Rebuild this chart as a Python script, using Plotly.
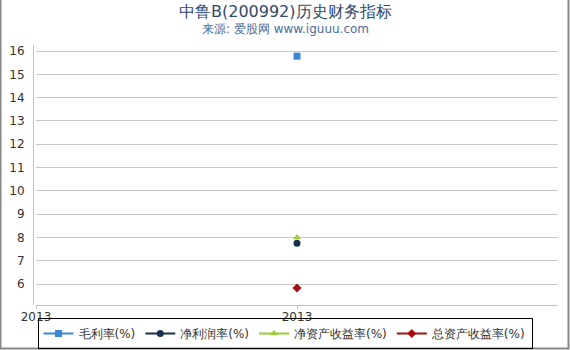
import plotly.graph_objects as go

years = [2013]
gross_margin = [15.78]
net_margin = [7.75]
roe = [8.0]
roa = [5.83]

series = [
    ("毛利率(%)", gross_margin, "#3a87d9", "square", 7),
    ("净利润率(%)", net_margin, "#17304f", "circle", 7),
    ("净资产收益率(%)", roe, "#9acd32", "triangle-up", 7),
    ("总资产收益率(%)", roa, "#a30f0f", "diamond", 7),
]

W, H = 570, 350
ml, mr, mt, mb = 33, 12, 45, 45
pw = W - ml - mr
ph = H - mt - mb


def px_y(y):
    """pixel row -> paper y"""
    return (H - mb - y) / ph


def px_x(x):
    return (x - ml) / pw


fig = go.Figure()
for name, vals, color, sym, sz in series:
    fig.add_trace(go.Scatter(
        x=years, y=vals, name=name, mode="lines+markers",
        marker=dict(color=color, symbol=sym, size=sz),
        line=dict(color=color, width=2),
    ))

fig.update_layout(
    width=W, height=H,
    margin=dict(l=ml, r=mr, t=mt, b=mb, autoexpand=False),
    paper_bgcolor="white", plot_bgcolor="white",
    font=dict(family="DejaVu Sans", size=12, color="#333"),
    showlegend=True,
    legend=dict(
        orientation="h", x=0.5, xref="container", xanchor="center",
        y=px_y(349), yanchor="bottom", bgcolor="rgba(255,255,255,0)",
        bordercolor="#000", borderwidth=1, font=dict(size=12, color="#333"),
        itemwidth=30, tracegroupgap=0,
    ),
    xaxis=dict(
        range=[2012, 2014], tickvals=[2012, 2013], ticktext=["2013", "2013"],
        domain=[3 / pw, 1], showgrid=False, zeroline=False,
        showline=True, linecolor="#c0c0c0", linewidth=1,
        ticks="outside", ticklen=3, tickcolor="#c0c0c0",
        ticklabelstandoff=-2,
        tickfont=dict(size=12, color="#333"),
    ),
    yaxis=dict(
        range=[5.1, 16.26], dtick=1, tick0=6,
        anchor="free", position=0,
        showgrid=True, gridcolor="#c8c8c8", zeroline=False,
        showline=True, linecolor="#c0c0c0", linewidth=1,
        ticks="", ticklabelstandoff=6,
        tickfont=dict(size=12, color="#333"),
    ),
    annotations=[
        dict(text="中鲁B(200992)历史财务指标", xref="paper", yref="paper",
             x=px_x(285), y=px_y(11), xanchor="center", yanchor="middle",
             showarrow=False, font=dict(size=16, color="#2f4a6b")),
        dict(text="来源: 爱股网 www.iguuu.com", xref="paper", yref="paper",
             x=px_x(285), y=px_y(29), xanchor="center", yanchor="middle",
             showarrow=False, font=dict(size=12, color="#4a6d99")),
    ],
    shapes=[dict(
        type="rect", xref="paper", yref="paper",
        x0=px_x(0.5), x1=px_x(W - 1.5),
        y0=px_y(H - 1.5), y1=px_y(-10),
        line=dict(color="#888", width=2),
    )],
)

fig.write_html("out.html")
